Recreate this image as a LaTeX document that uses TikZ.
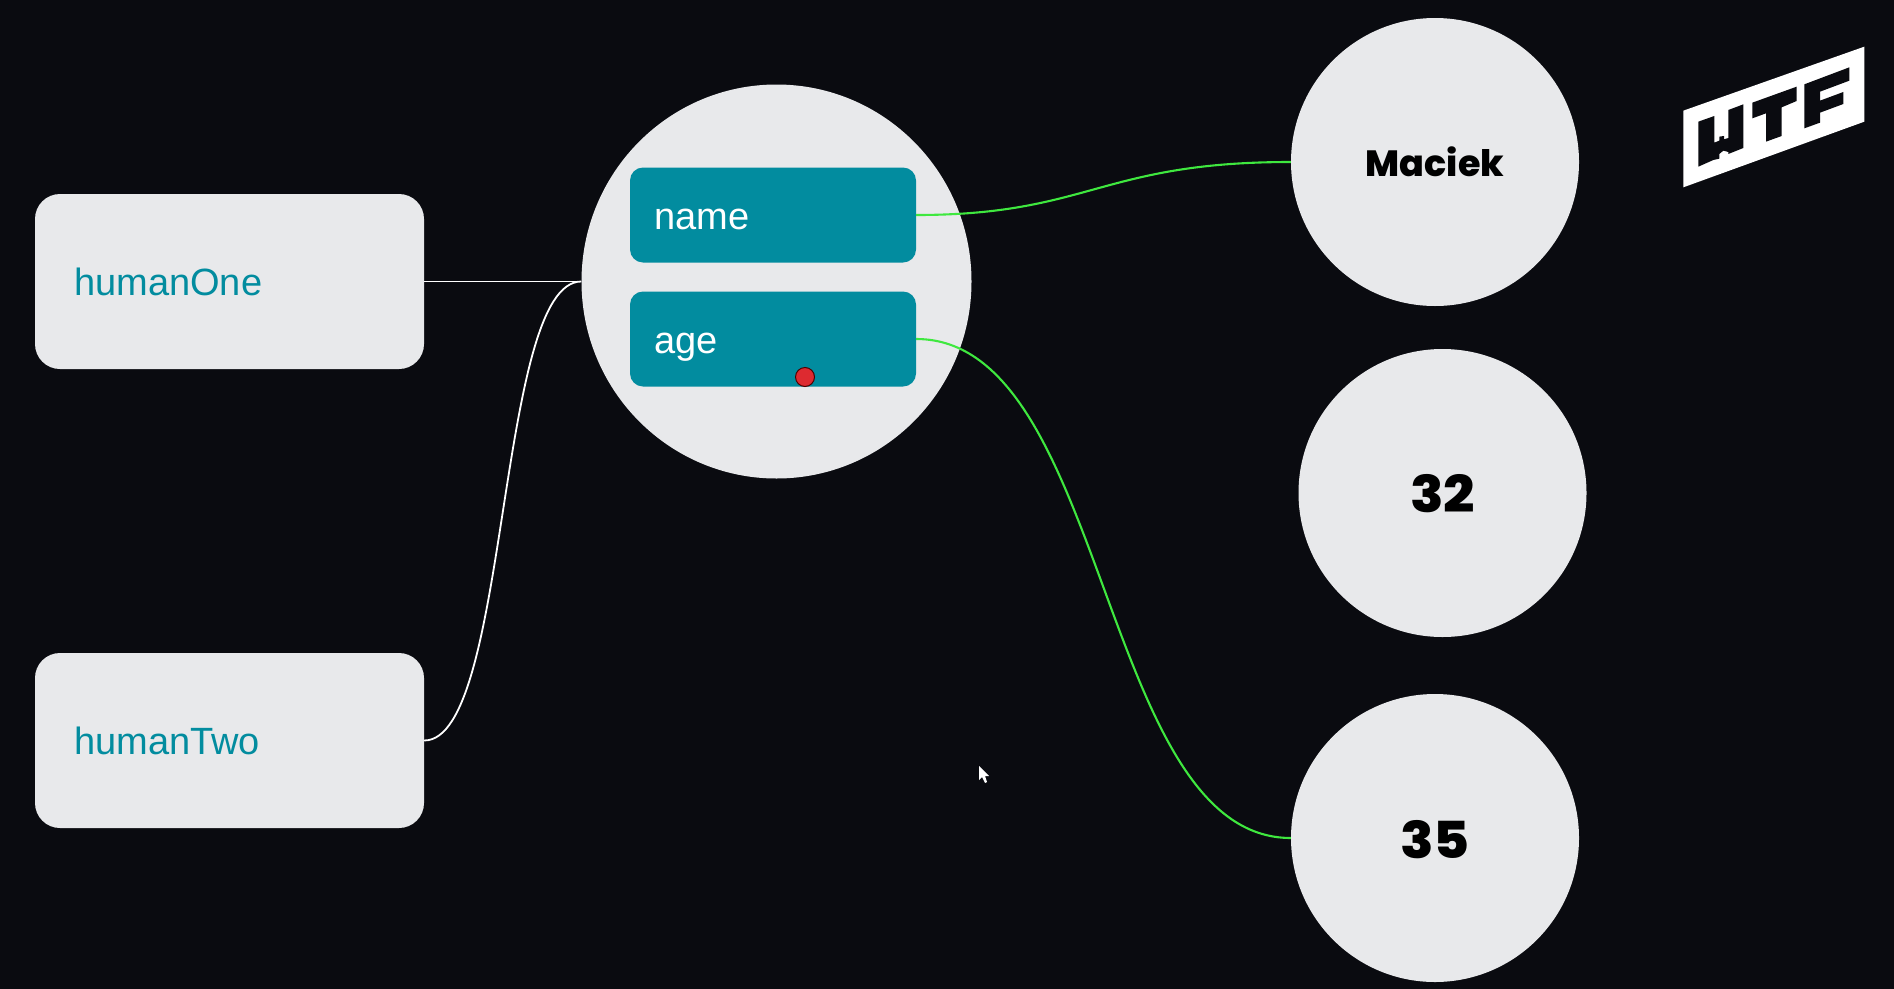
\documentclass[tikz,border=0pt]{standalone}
\usepackage{fontspec}
\usetikzlibrary{shapes.geometric}
\setmainfont{Liberation Sans}
\newfontfamily\heavyf{Poppins}[UprightFont=*-ExtraBold]
\newfontfamily\heavywide{Poppins}[UprightFont=*-ExtraBold,FakeStretch=1.08]
\definecolor{bgc}{HTML}{0A0B10}
\definecolor{lightc}{HTML}{E8E9EB}
\definecolor{tealc}{HTML}{028C9F}
\definecolor{greenc}{HTML}{3FE83F}
\definecolor{redc}{HTML}{DD2A30}
\tikzset{
 humanbox/.style={fill=lightc,rounded corners=25pt,minimum width=389pt,minimum height=175pt,inner sep=0pt},
 propbox/.style={fill=tealc,rounded corners=13pt,minimum width=286pt,minimum height=95pt,inner sep=0pt},
 valcirc/.style={circle,fill=lightc,minimum size=288pt,inner sep=0pt},
 humantext/.style={anchor=base west,inner sep=0pt,text=tealc,font=\fontsize{38}{38}\selectfont},
 proptext/.style={anchor=base west,inner sep=0pt,text=white,font=\fontsize{38}{38}\selectfont},
 valtext/.style={anchor=base,inner sep=0pt,text=black},
 whitewire/.style={white,line width=1.8pt},
 greenwire/.style={greenc,line width=2.1pt},
 logoletter/.style={fill=bgc,draw=none}
}
\begin{document}
\begin{tikzpicture}[x=1pt,y=-1pt]
\useasboundingbox (0,0) rectangle (1894,988);
\fill[bgc] (-5,-5) rectangle (1899,993);
\node[humanbox] (h1) at (229.5,281.5) {};
\node[humanbox] (h2) at (229.5,740.5) {};
\node[humantext] (h1t) at (74,295) {humanOne};
\node[humantext] (h2t) at (74,754) {humanTwo};
\node[ellipse,fill=lightc,minimum width=390pt,minimum height=394pt,inner sep=0pt] (obj) at (776.5,281.5) {};
\draw[whitewire] (h1.east) -- (obj.west);
\draw[whitewire] (h2.east) .. controls (510,740.5) and (496,281.5) .. (obj.west);
\node[propbox] (pname) at (773,215) {};
\node[propbox] (page) at (773,339) {};
\node[proptext] (pnamet) at (654,229) {name};
\node[proptext] (paget) at (654,353) {age};
\node[circle,fill=redc,draw=black!70!red,line width=1pt,minimum size=19pt,inner sep=0pt] (dot) at (805,377) {};
\node[valcirc] (v1) at (1435,162) {};
\node[valcirc] (v2) at (1442.5,493) {};
\node[valcirc] (v3) at (1435,838) {};
\node[valtext,font=\heavyf\fontsize{36.5}{37}\selectfont] (v1t) at (1435,176) {Maciek};
\node[valtext,font=\heavywide\fontsize{51}{51}\selectfont] (v2t) at (1442.5,512) {32};
\node[valtext,font=\heavywide\fontsize{51}{51}\selectfont] (v3t) at (1435,858.5) {35};
\draw[greenwire] (pname.east) .. controls (1090,215) and (1100,162) .. (v1.west);
\draw[greenwire] (page.east) .. controls (1108,339) and (1100,838) .. (v3.west);
% logo
\begin{scope}[shift={(1660,30)},x=0.3333pt,y=-0.3333pt]
\fill[white] (70,242) -- (613,50) -- (613,275) -- (70,472) -- cycle;
\fill[logoletter] (115,275) -- (163,258) -- (163,338) -- (178,332) -- (178,320) -- (192,318) -- (192,328) -- (205,324) -- (205,240) -- (250,223) -- (250,354) -- (205,372) -- (205,366) -- (190,362) -- (178,372) -- (178,386) -- (160,390) -- (115,410) -- cycle;
\fill[logoletter] (277,218) -- (410,170) -- (410,213) -- (365,232) -- (365,318) -- (318,335) -- (318,250) -- (277,265) -- cycle;
\fill[logoletter] (433,163) -- (568,112) -- (568,152) -- (480,185) -- (480,212) -- (550,186) -- (550,222) -- (480,248) -- (480,278) -- (433,295) -- cycle;
\end{scope}
% cursor
\fill[white] (979,766) -- (979,780) -- (982,777) -- (985,783) -- (987,782) -- (985,776) -- (989,776) -- cycle;
\end{tikzpicture}
\end{document}
